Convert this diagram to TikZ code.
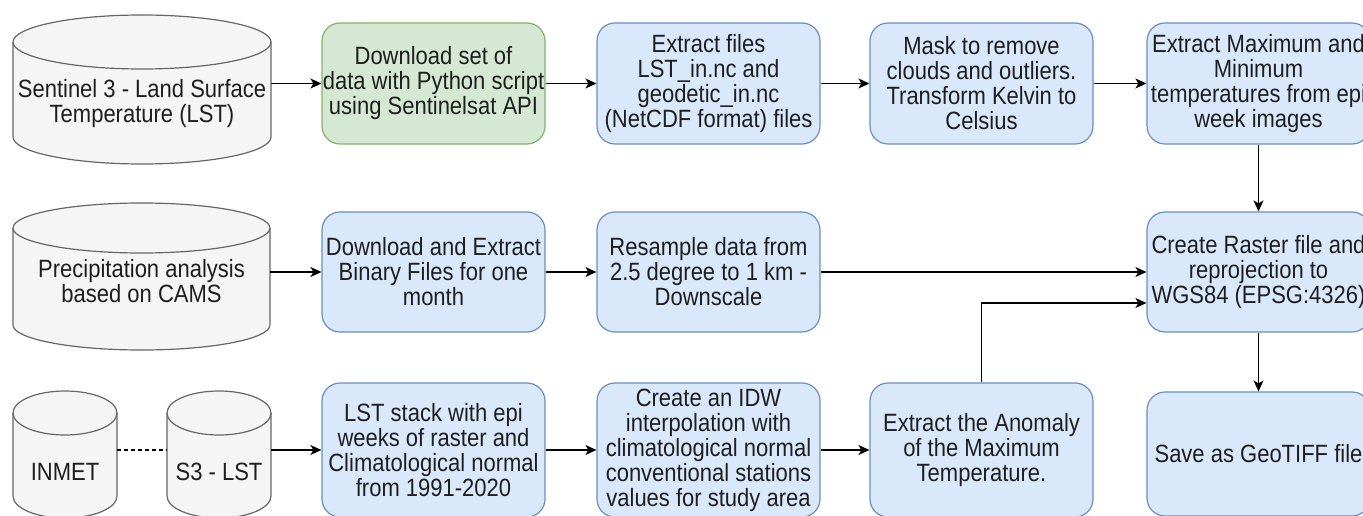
\documentclass[tikz,border=0pt]{standalone}
\usepackage{fontspec}
\setmainfont[FakeStretch=0.88]{Liberation Sans}
\usetikzlibrary{arrows.meta,calc}
\definecolor{bfill}{HTML}{DAE8FC}
\definecolor{bline}{HTML}{6C8EBF}
\definecolor{gfill}{HTML}{D5E8D4}
\definecolor{gline}{HTML}{82B366}
\definecolor{cfill}{HTML}{F5F5F5}
\definecolor{cline}{HTML}{666666}
\definecolor{txt}{HTML}{1E1E1E}
\tikzset{
  procbox/.style={rectangle, rounded corners=18pt, draw=bline, fill=bfill, line width=1.2pt,
    minimum width=223pt, minimum height=120pt, inner sep=0pt, align=center, text=txt,
    font=\fontsize{25}{25}\selectfont},
  greenbox/.style={procbox, draw=gline, fill=gfill},
  cylbox/.style={rectangle, inner sep=0pt, draw=none},
  cylstyle/.style={draw=cline, fill=cfill, line width=1.2pt},
  cyltext/.style={align=center, text=txt, inner sep=0pt, font=\fontsize{25}{25}\selectfont},
  flow/.style={draw=black, line width=1.4pt, -{Stealth[length=11pt,width=10pt,inset=3pt]}},
  link/.style={draw=black, line width=1.4pt, dashed, dash pattern=on 4pt off 3pt}
}
% name, cx, cy, half width, half height, ellipse y radius
\newcommand\dbcyl[6]{%
  \node[cylbox, minimum width={2*#4pt}, minimum height={2*#5pt}] (#1) at (#2,#3) {};
  \path[cylstyle] (#2-#4,#3+#5-#6) -- (#2-#4,#3-#5+#6)
     arc[start angle=180,end angle=360,x radius=#4pt,y radius=#6pt]
     -- (#2+#4,#3+#5-#6)
     arc[start angle=0,end angle=180,x radius=#4pt,y radius=#6pt] -- cycle;
  \draw[cylstyle,fill=none] (#2-#4,#3+#5-#6)
     arc[start angle=180,end angle=360,x radius=#4pt,y radius=#6pt];
}
\begin{document}
\begin{tikzpicture}[x=1pt,y=1pt]
\useasboundingbox (0,0) rectangle (1363,515);
\clip (0,0) rectangle (1363,515);

% cylinders
\dbcyl{sen}{142}{425.5}{129}{74.5}{27}
\node[cyltext] (sent) at (142,411) {Sentinel 3 - Land Surface\\Temperature (LST)};
\dbcyl{cams}{141.5}{238.5}{128.5}{73.5}{25}
\node[cyltext] (camst) at (141.5,234) {Precipitation analysis\\based on CAMS};
\dbcyl{inm}{65}{60.5}{52}{63.5}{22}
\node[cyltext] (inmt) at (65,43) {INMET};
\dbcyl{slst}{219}{60.5}{52}{63.5}{22}
\node[cyltext] (slstt) at (219,43) {S3 - LST};

% row 1
\node[greenbox, minimum height=121pt] (dl) at (433.5,431.5) {Download set of\\data with Python script\\using Sentinelsat API};
\node[procbox, minimum height=121pt] (ex) at (708.5,431.5) {Extract files\\LST\_in.nc and\\geodetic\_in.nc\\(NetCDF format) files};
\node[procbox, minimum height=121pt] (mask) at (981.5,431.5) {Mask to remove\\clouds and outliers.\\Transform Kelvin to\\Celsius};
\node[procbox, minimum height=121pt] (mx) at (1258.5,431.5) {Extract Maximum and\\Minimum\\temperatures from epi\\week images};

% row 2
\node[procbox] (bin) at (433.5,243) {Download and Extract\\Binary Files for one\\month};
\node[procbox] (res) at (708.5,243) {Resample data from\\2.5 degree to 1 km -\\Downscale};
\node[procbox] (ras) at (1258.5,243) {Create Raster file and\\reprojection to\\WGS84 (EPSG:4326)};

% row 3
\node[procbox, minimum height=134pt] (stk) at (433.5,65) {LST stack with epi\\weeks of raster and\\Climatological normal\\from 1991-2020};
\node[procbox, minimum height=134pt] (idw) at (708.5,65) {Create an IDW\\interpolation with\\climatological normal\\conventional stations\\values for study area};
\node[procbox, minimum height=134pt] (ano) at (981.5,65) {Extract the Anomaly\\of the Maximum\\Temperature.};
\node[procbox, minimum height=124pt] (geo) at (1258.5,61) {Save as GeoTIFF file};

% connectors
\draw[flow] (sen.east |- dl.west) -- (dl.west);
\draw[flow] (dl) -- (ex);
\draw[flow] (ex) -- (mask);
\draw[flow] (mask) -- (mx);
\draw[flow] (mx) -- (ras);
\draw[flow] (cams.east |- bin.west) -- (bin.west);
\draw[flow] (bin) -- (res);
\draw[flow] (res) -- (ras);
\draw[flow] (ano.north) |- ([yshift=-31pt]ras.west);
\draw[flow] (ras) -- (geo);
\draw[link] (inm.east |- stk.west) -- (slst.west |- stk.west);
\draw[flow] (slst.east |- stk.west) -- (stk.west);
\draw[flow] (stk) -- (idw);
\draw[flow] (idw) -- (ano);
\end{tikzpicture}
\end{document}
